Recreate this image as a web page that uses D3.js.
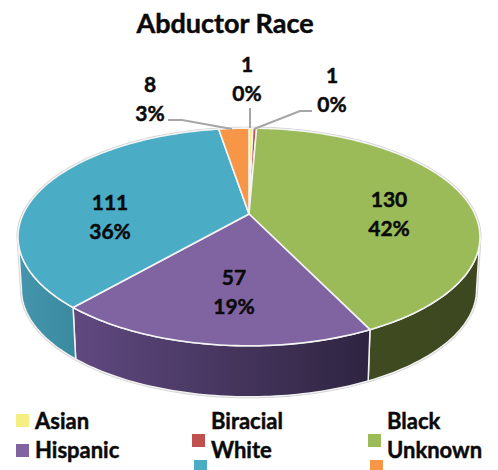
<!DOCTYPE html>
<html><head><meta charset="utf-8">
<script src="https://cdn.jsdelivr.net/npm/d3@7"></script>
<style>html,body{margin:0;padding:0;background:#fff}svg{display:block}text{font-family:Lato,"Open Sans",sans-serif;font-weight:700;fill:#0a0a0a;stroke:#0a0a0a;stroke-width:.45px}</style>
</head><body><svg id="c" width="498" height="470"></svg>
<script>
const categories = ["Asian","Biracial","Black","Hispanic","White","Unknown"];
const counts = [1,1,130,57,111,8];
const percents = ["0%","0%","42%","19%","36%","3%"];
const colors = ["#f3ef83","#c0504d","#9bbb59","#8064a2","#4bacc6","#f79646"];
const sideLeft = ["#b8b45e","#8f3a38","#3f4a21","#604980","#4596ae","#b86f30"];
const sideRight = ["#b8b45e","#8f3a38","#3d4820","#2e2440","#3a8a9f","#b86f30"];
const labelPos = [[247,65],[332,76],[389,200],[234,278],[110,203],[150,85]];
const leaders = [[[250,108],[250,128]],[[312,111],[300,111],[254,129]],[],[],[],[[168,120],[182,120],[232,129]]];
const legendSwatch = [[16,414],[192,434],[368,434],[16,444],[194,460],[370,460]];
const legendText = [[35,429],[211,429],[387,429],[35,458],[211,458],[387,458]];

const svg = d3.select("#c");
const cx=249, cy=214, A=225.8, B=104, p=0.211, depth=53, shrink=0.985;
function proj(t,lower){
  const u=Math.sin(t), v=-Math.cos(t), w=1-p*v, s=lower?shrink:1;
  return [cx+s*A*u/w, cy+(lower?depth:0)+s*B*v/w];
}
function arcPts(a,b,lower){
  const n=Math.max(2,Math.ceil(Math.abs(b-a)/0.02)), out=[];
  for(let i=0;i<=n;i++) out.push(proj(a+(b-a)*i/n,lower));
  return out;
}
const pie=d3.pie().sort(null).value(d=>d)(counts);
const line=d3.line();
const defs=svg.append("defs");
categories.forEach((c,i)=>{
  const g=defs.append("linearGradient").attr("id","g"+i);
  g.append("stop").attr("offset",0).attr("stop-color",sideLeft[i]);
  g.append("stop").attr("offset",1).attr("stop-color",sideRight[i]);
});
// the rim is visible between the two points where the outline is vertical
const rimStart=Math.PI-Math.acos(p)+0, rimEnd=2*Math.PI-rimStart;
const hull=arcPts(0,rimStart,false).concat(arcPts(rimStart,rimEnd,true)).concat(arcPts(rimEnd,2*Math.PI,false));
svg.append("path").attr("d",line(hull)+"Z").attr("fill","#fff").attr("stroke","#cfcfcf").attr("stroke-width",3);
// side faces
pie.forEach((d,i)=>{
  const a=Math.max(d.startAngle,rimStart), b=Math.min(d.endAngle,rimEnd);
  if(b<=a) return;
  const pts=arcPts(a,b,false).concat(arcPts(b,a,true));
  svg.append("path").attr("d",line(pts)+"Z").attr("fill",`url(#g${i})`).attr("stroke","#f2f2f2").attr("stroke-width",1.5);
});
// top faces
pie.forEach((d,i)=>{
  const pts=[[cx,cy]].concat(arcPts(d.startAngle,d.endAngle,false));
  svg.append("path").attr("d",line(pts)+"Z").attr("fill",colors[i]).attr("stroke","#f4f4f4").attr("stroke-width",1.6).attr("stroke-linejoin","round");
});
// leaders
leaders.forEach(l=>{ if(l.length) svg.append("path").attr("d",line(l)).attr("fill","none").attr("stroke","#a6a6a6").attr("stroke-width",2); });
// labels
categories.forEach((c,i)=>{
  const [x,y]=labelPos[i];
  svg.append("text").attr("x",x).attr("y",y+7).attr("text-anchor","middle").attr("font-size",21).text(counts[i]);
  svg.append("text").attr("x",x).attr("y",y+36).attr("text-anchor","middle").attr("font-size",21).text(percents[i]);
});
svg.append("text").attr("x",225).attr("y",33).attr("text-anchor","middle").attr("font-size",27).text("Abductor Race");
// legend
categories.forEach((c,i)=>{
  svg.append("rect").attr("x",legendSwatch[i][0]).attr("y",legendSwatch[i][1]).attr("width",13).attr("height",13).attr("fill",colors[i]);
  svg.append("text").attr("x",legendText[i][0]).attr("y",legendText[i][1]).attr("font-size",22).text(c);
});
</script></body></html>
